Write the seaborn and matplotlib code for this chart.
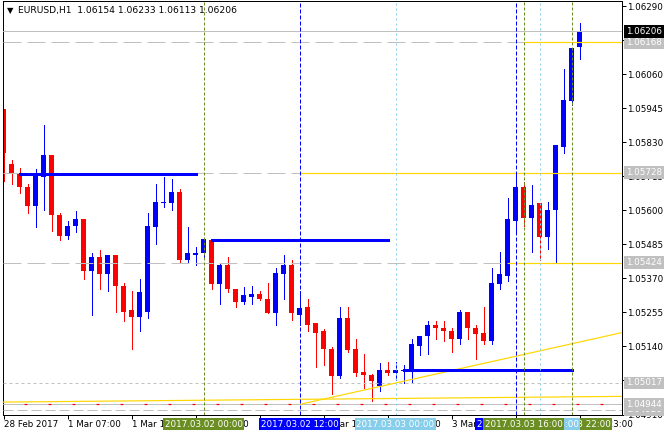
import numpy as np
import pandas as pd
import matplotlib
matplotlib.use("Agg")
import matplotlib.pyplot as plt
import matplotlib.transforms as mtransforms
import seaborn as sns

# ---------------- data ----------------
symbol = "EURUSD,H1"
opens = [1.05942, 1.05756, 1.05722, 1.05681, 1.05614, 1.05713, 1.05786, 1.05586, 1.05515, 1.05546,
         1.05570, 1.05394, 1.05444, 1.05384, 1.05448, 1.05346, 1.05262, 1.05241, 1.05258, 1.05543,
         1.05624, 1.05624, 1.05661, 1.05431, 1.05448, 1.05455, 1.05499, 1.05350, 1.05417, 1.05336,
         1.05292, 1.05309, 1.05319, 1.05302, 1.05252, 1.05384, 1.05417, 1.05248, 1.05272, 1.05218,
         1.05191, 1.05133, 1.05039, 1.05238, 1.05130, 1.05055, 1.05045, 1.05005, 1.05062, 1.05049,
         1.05056, 1.05059, 1.05140, 1.05174, 1.05214, 1.05204, 1.05194, 1.05167, 1.05255, 1.05204,
         1.05184, 1.05160, 1.05350, 1.05377, 1.05566, 1.05678, 1.05576, 1.05624, 1.05509, 1.05603,
         1.05816, 1.05969, 1.06154]
highs = [1.05942, 1.05772, 1.05745, 1.05688, 1.05739, 1.05888, 1.05786, 1.05593, 1.05563, 1.05597,
         1.05570, 1.05455, 1.05465, 1.05451, 1.05451, 1.05356, 1.05329, 1.05367, 1.05590, 1.05691,
         1.05712, 1.05705, 1.05674, 1.05543, 1.05475, 1.05502, 1.05502, 1.05424, 1.05441, 1.05336,
         1.05340, 1.05343, 1.05329, 1.05356, 1.05404, 1.05448, 1.05431, 1.05326, 1.05302, 1.05221,
         1.05198, 1.05137, 1.05275, 1.05275, 1.05167, 1.05113, 1.05048, 1.05083, 1.05086, 1.05086,
         1.05076, 1.05164, 1.05177, 1.05225, 1.05225, 1.05225, 1.05201, 1.05262, 1.05258, 1.05211,
         1.05275, 1.05407, 1.05458, 1.05641, 1.05722, 1.05695, 1.05685, 1.05624, 1.05630, 1.05820,
         1.06080, 1.06151, 1.06233]
lows = [1.05698, 1.05688, 1.05659, 1.05591, 1.05544, 1.05602, 1.05532, 1.05499, 1.05502, 1.05526,
        1.05367, 1.05248, 1.05333, 1.05329, 1.05255, 1.05225, 1.05133, 1.05191, 1.05238, 1.05488,
        1.05610, 1.05603, 1.05421, 1.05421, 1.05414, 1.05441, 1.05336, 1.05285, 1.05323, 1.05272,
        1.05285, 1.05285, 1.05296, 1.05252, 1.05211, 1.05299, 1.05231, 1.05214, 1.05194, 1.05072,
        1.05076, 1.04981, 1.05035, 1.05120, 1.05039, 1.04998, 1.04957, 1.04988, 1.05042, 1.05025,
        1.05018, 1.05015, 1.05110, 1.05113, 1.05164, 1.05160, 1.05120, 1.05150, 1.05167, 1.05096,
        1.05147, 1.05147, 1.05336, 1.05363, 1.05532, 1.05549, 1.05458, 1.05431, 1.05468, 1.05421,
        1.05793, 1.05955, 1.06113]
closes = [1.05794, 1.05722, 1.05679, 1.05614, 1.05722, 1.05786, 1.05583, 1.05515, 1.05549, 1.05570,
          1.05394, 1.05444, 1.05384, 1.05448, 1.05343, 1.05258, 1.05241, 1.05323, 1.05546, 1.05627,
          1.05627, 1.05661, 1.05431, 1.05455, 1.05455, 1.05502, 1.05350, 1.05417, 1.05333, 1.05292,
          1.05313, 1.05319, 1.05299, 1.05252, 1.05390, 1.05414, 1.05252, 1.05269, 1.05214, 1.05187,
          1.05130, 1.05039, 1.05238, 1.05127, 1.05052, 1.05042, 1.05022, 1.05062, 1.05049, 1.05059,
          1.05059, 1.05147, 1.05174, 1.05214, 1.05201, 1.05191, 1.05167, 1.05255, 1.05201, 1.05181,
          1.05157, 1.05353, 1.05384, 1.05570, 1.05678, 1.05576, 1.05617, 1.05509, 1.05600, 1.05820,
          1.05972, 1.06151, 1.06206]

xtick_pos = [0, 8, 16, 24, 32, 40, 48, 56, 64, 72]
xtick_labels = ["28 Feb 2017", "1 Mar 07:00", "1 Mar 15:00", "1 Mar 23:00", "2 Mar 07:00",
                "2 Mar 15:00", "2 Mar 23:00", "3 Mar 07:00", "3 Mar 15:00", "3 Mar 23:00"]
ytick_vals = [1.06290, 1.06175, 1.06060, 1.05945, 1.05830, 1.05715, 1.05600,
              1.05485, 1.05370, 1.05255, 1.05140, 1.05025, 1.04910]

# thick blue horizontal segments
seg_start = [2, 26, 50]
seg_end = [24, 48, 71]
seg_price = [1.05722, 1.05499, 1.05060]

# price levels (grey dashed, turning into yellow from a given bar)
level_prices = [1.06168, 1.05728, 1.05424]
level_yellow_from = [65, 37, 63]
dot_level = 1.05017
low_level = 1.04944
low_level2 = 1.04926

# yellow trend lines (anchor bars / prices)
trend_x = [37, 71]
trend_y = [1.04944, 1.05149]
base_x = [0, 72]
base_y = [1.04952, 1.04970]

# vertical time markers
vline_idx = [25, 37, 49, 64, 65, 67, 71]
vline_text = ["2017.03.02 00:00", "2017.03.02 12:00", "2017.03.03 00:00", "2017.03.03 15:00",
              "2017.03.03 16:00", "2017.03.03 18:00", "2017.03.03 22:00"]
vline_kind = ["olive", "blue", "sky", "blue", "olive", "sky", "olive"]
vline_z = [20, 20, 20, 22, 23, 21, 19]

# ---------------- style ----------------
BLUE = "#0000FF"
RED = "#FF0000"
GREY = "#C0C0C0"
YELLOW = "#FFD700"
OLIVE = "#6B8E23"
SKY = "#87CEEB"
kind_color = {"olive": OLIVE, "blue": BLUE, "sky": SKY}
PX = 0.72
kind_dash = {"olive": (0, (3 * PX, 2 * PX)), "blue": (0, (4 * PX, 2 * PX)), "sky": (0, (2 * PX, 3 * PX))}

sns.set_style("white")
plt.rcParams["font.family"] = ["DejaVu Sans"]
plt.rcParams["lines.scale_dashes"] = False
FS = 6.3

W, H = 664, 436
fig = plt.figure(figsize=(W / 100, H / 100), dpi=100)
fig.patch.set_facecolor("white")
ax = fig.add_axes([2.5 / W, 21.5 / H, 619 / W, 414 / H])
ax.set_facecolor("white")

YMIN, YMAX = 1.0491, 1.0631
XMIN, XMAX = -0.125, 77.25
px_price = (YMAX - YMIN) / 414.0

# ---------------- candles ----------------
n = len(opens)
df = pd.DataFrame({"idx": np.arange(n), "open": opens, "high": highs, "low": lows, "close": closes})
df["bottom"] = df[["open", "close"]].min(axis=1)
df["body"] = (df["close"] - df["open"]).abs().clip(lower=px_price)
df["up"] = df["close"] >= df["open"]

ax.vlines(df["idx"], df["low"], df["high"], colors=np.where(df["up"], BLUE, RED),
          linewidth=PX, antialiased=False, zorder=2)
for is_up, col in [(True, BLUE), (False, RED)]:
    sub = df[df["up"] == is_up].sort_values("idx")
    sns.barplot(data=sub, x="idx", y="body", native_scale=True, color=col, saturation=1,
                width=0.625, errorbar=None, bottom=sub["bottom"].to_numpy(),
                linewidth=0, antialiased=False, ax=ax, zorder=2.2)

# ---------------- lines ----------------
ax.axhline(closes[-1], color=GREY, lw=PX, zorder=3)
for p, xf in zip(level_prices, level_yellow_from):
    ax.axhline(p, color=GREY, lw=PX, linestyle=(0, (18 * PX, 6 * PX)), zorder=3)
    ax.plot([xf, XMAX], [p, p], color=YELLOW, lw=PX * 1.2, zorder=3.5, solid_capstyle="butt")
ax.axhline(dot_level, color=GREY, lw=PX, linestyle=(0, (3 * PX, 3 * PX)), zorder=3)
ax.axhline(low_level, color=GREY, lw=PX, zorder=3)
ax.axhline(low_level, color=RED, lw=PX * 1.2, linestyle=(3 * PX, (3 * PX, 21 * PX)), zorder=3.2)
ax.axhline(low_level2, color=GREY, lw=PX, linestyle=(0, (10 * PX, 4 * PX)), zorder=3)

slope = (trend_y[1] - trend_y[0]) / (trend_x[1] - trend_x[0])
ax.plot([trend_x[0], XMAX], [trend_y[0], trend_y[0] + slope * (XMAX - trend_x[0])],
        color=YELLOW, lw=PX * 1.2, zorder=3.5)
bslope = (base_y[1] - base_y[0]) / (base_x[1] - base_x[0])
ax.plot([XMIN, XMAX], [base_y[0] + bslope * (XMIN - base_x[0]), base_y[0] + bslope * (XMAX - base_x[0])],
        color=YELLOW, lw=PX * 1.2, zorder=3.5)

for s, e, p in zip(seg_start, seg_end, seg_price):
    ax.plot([s, e], [p, p], color=BLUE, lw=3 * PX, solid_capstyle="projecting", zorder=4)

for xi, k in zip(vline_idx, vline_kind):
    ax.axvline(xi, color=kind_color[k], lw=PX, linestyle=kind_dash[k], zorder=4.5)

# ---------------- axes ----------------
ax.set_xlim(XMIN, XMAX)
ax.set_ylim(YMIN, YMAX)
ax.set_xlabel("")
ax.set_ylabel("")
ax.yaxis.tick_right()
ax.set_yticks(ytick_vals)
ax.set_yticklabels([f"{v:.5f}" for v in ytick_vals])
ax.set_xticks(xtick_pos)
ax.set_xticklabels(xtick_labels)
for lab in ax.get_xticklabels():
    lab.set_horizontalalignment("left")
ax.tick_params(axis="both", direction="out", length=4 * PX, width=PX, colors="black", labelsize=FS)
ax.tick_params(axis="x", bottom=True, top=False, pad=1.5 * PX)
ax.tick_params(axis="y", right=True, left=False, labelright=True, labelleft=False, pad=1.5 * PX)
for sp in ax.spines.values():
    sp.set_color("black")
    sp.set_linewidth(PX)
    sp.set_visible(True)

# time labels on the x axis
tx = mtransforms.blended_transform_factory(ax.transData, ax.transAxes)
y_lab = (436 - 424 - 21.5) / 414
for xi, txt, k, z in zip(vline_idx, vline_text, vline_kind, vline_z):
    ax.text(xi, y_lab, txt, transform=tx, ha="center", va="center", color="white", fontsize=FS,
            clip_on=False, zorder=z,
            bbox=dict(boxstyle="square,pad=0.2", fc=kind_color[k], ec="none"))

# price labels on the y axis
ty = mtransforms.blended_transform_factory(ax.transAxes, ax.transData)
x_lab = (626 - 2.5) / 619
price_boxes = [(level_prices[0], GREY), (level_prices[1], GREY), (level_prices[2], GREY),
               (dot_level, GREY), (low_level2, GREY), (low_level, GREY), (closes[-1], "black")]
for i, (p, fc) in enumerate(price_boxes):
    ax.text(x_lab, p, f"{p:.5f}", transform=ty, ha="left", va="center", color="white",
            fontsize=FS, clip_on=False, zorder=30 + i,
            bbox=dict(boxstyle="square,pad=0.2", fc=fc, ec="none"))

# header
title = f"{symbol}  {opens[-1]:.5f} {highs[-1]:.5f} {lows[-1]:.5f} {closes[-1]:.5f}"
fig.text(18 / W, 1 - 11 / H, title, ha="left", va="center", fontsize=6.6, color="black")
fig.text(6.5 / W, 1 - 11 / H, "\u25BC", ha="left", va="center", fontsize=6, color="black")

fig.savefig("out.png", dpi=100, facecolor="white")
